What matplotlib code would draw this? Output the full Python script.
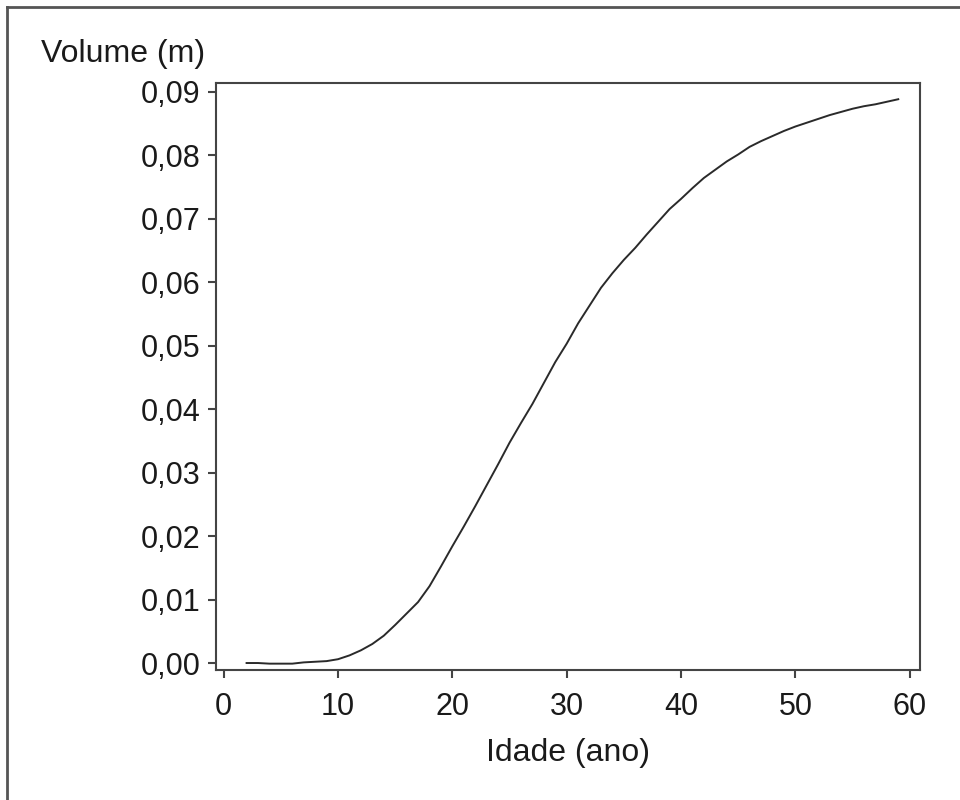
# Volume growth curve by age
import matplotlib.pyplot as plt
from matplotlib.lines import Line2D
from matplotlib.ticker import FuncFormatter

plt.rcParams['font.family'] = ['Liberation Sans', 'DejaVu Sans']

# age (years) and estimated volume
idade = list(range(2, 60))
volume = [0.0000, 0.0000, -0.0001, -0.0001, -0.0001, 0.0001, 0.0002, 0.0003,
          0.0006, 0.0012, 0.0020, 0.0030, 0.0043, 0.0060, 0.0078, 0.0096,
          0.0121, 0.0152, 0.0184, 0.0215, 0.0247, 0.0280, 0.0313, 0.0347,
          0.0378, 0.0408, 0.0441, 0.0474, 0.0503, 0.0535, 0.0563, 0.0591,
          0.0614, 0.0635, 0.0654, 0.0675, 0.0695, 0.0715, 0.0731, 0.0748,
          0.0764, 0.0777, 0.0790, 0.0801, 0.0813, 0.0822, 0.0830, 0.0838,
          0.0845, 0.0851, 0.0857, 0.0863, 0.0868, 0.0873, 0.0877, 0.0880,
          0.0884, 0.0888]

x_ticks = [0, 10, 20, 30, 40, 50, 60]
y_ticks = [0.00, 0.01, 0.02, 0.03, 0.04, 0.05, 0.06, 0.07, 0.08, 0.09]

edge = '#444444'

fig = plt.figure(figsize=(9.6, 8), dpi=100)
ax = fig.add_axes([0.2247, 0.1625, 0.9583 - 0.2247, 0.8966 - 0.1625])

ax.plot(idade, volume, color='#2a2a2a', lw=1.4)

ax.set_xlim(-0.7, 60.9)
ax.set_ylim(-0.0011, 0.0914)
ax.set_xticks(x_ticks)
ax.set_yticks(y_ticks)
ax.yaxis.set_major_formatter(FuncFormatter(lambda v, p: f'{v:.2f}'.replace('.', ',')))

for s in ax.spines.values():
    s.set_color(edge)
    s.set_linewidth(1.5)
ax.tick_params(colors=edge, labelcolor='#1a1a1a', width=1.5, length=6,
               labelsize=22, pad=5)
ax.tick_params(axis='x', pad=10)

ax.set_xlabel('Idade (ano)', fontsize=23, color='#1a1a1a', labelpad=11)
fig.text(0.043, 0.933, 'Volume (m)', fontsize=23, color='#1a1a1a',
         ha='left', va='center')

# frame lines along the top and left edges
fig.add_artist(Line2D([0.0078, 1.0], [0.991, 0.991], transform=fig.transFigure,
                      color='#555555', lw=2))
fig.add_artist(Line2D([0.0078, 0.0078], [0.0, 0.991], transform=fig.transFigure,
                      color='#555555', lw=2))

fig.savefig('out.png', dpi=100)
